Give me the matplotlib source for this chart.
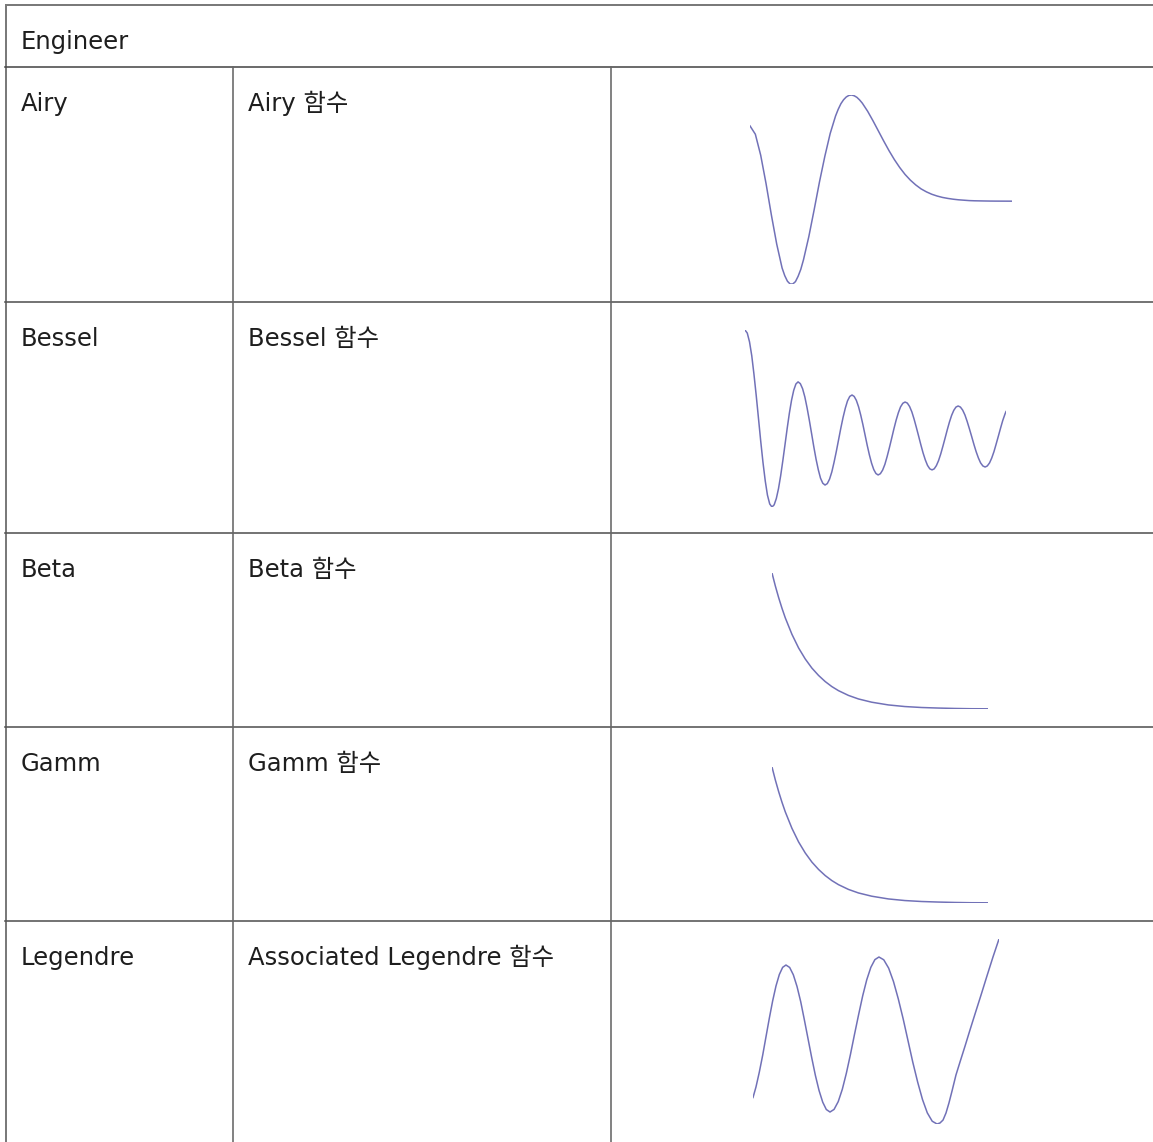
import matplotlib
matplotlib.use("Agg")
import matplotlib.pyplot as plt

plt.rcParams['font.family'] = ['DejaVu Sans', 'Noto Sans CJK KR']

W, H = 1153, 1142

# ---------------- data ----------------
header = "Engineer"
names = ["Airy", "Bessel", "Beta", "Gamm", "Legendre"]
descriptions = ["Airy 함수", "Bessel 함수", "Beta 함수", "Gamm 함수", "Associated Legendre 함수"]

airy_x = [-4.8, -4.6, -4.4, -4.2, -4.0, -3.8, -3.6, -3.5, -3.4, -3.3, -3.2, -3.1, -3.0, -2.9,
          -2.8, -2.6, -2.4, -2.2, -2.0, -1.8, -1.6, -1.5, -1.4, -1.3, -1.2, -1.1, -1.0, -0.9,
          -0.8, -0.7, -0.6, -0.4, -0.2, 0.0, 0.2, 0.4, 0.6, 0.8, 1.0, 1.2, 1.4, 1.6, 1.8, 2.0,
          2.2, 2.4, 2.6, 2.8, 3.0, 3.2, 3.4, 3.6, 3.8, 4.0, 4.2, 4.4, 4.6, 4.8, 5.0]
airy_y = [0.380, 0.338, 0.232, 0.089, -0.070, -0.217, -0.337, -0.376, -0.404, -0.418, -0.418,
          -0.406, -0.379, -0.344, -0.296, -0.179, -0.043, 0.098, 0.227, 0.342, 0.430, 0.464,
          0.492, 0.512, 0.526, 0.534, 0.536, 0.532, 0.524, 0.511, 0.495, 0.454, 0.406, 0.355,
          0.304, 0.255, 0.210, 0.170, 0.135, 0.106, 0.082, 0.062, 0.047, 0.035, 0.026, 0.019,
          0.014, 0.010, 0.007, 0.005, 0.003, 0.002, 0.0015, 0.001, 0.0006, 0.0004, 0.0003,
          0.0002, 0.0001]

bessel_x = [0.0, 0.26, 0.52, 0.78, 1.03, 1.29, 1.55, 1.81, 2.07, 2.33, 2.58, 2.84,
            3.1, 3.35, 3.6, 3.85, 4.1, 4.35, 4.6, 4.85, 5.1, 5.35, 5.6, 5.85,
            6.1, 6.36, 6.62, 6.88, 7.13, 7.39, 7.65, 7.91, 8.17, 8.43, 8.68, 8.94,
            9.2, 9.46, 9.72, 9.98, 10.23, 10.49, 10.75, 11.01, 11.27, 11.53, 11.78, 12.04,
            12.3, 12.55, 12.8, 13.05, 13.3, 13.55, 13.8, 14.05, 14.3, 14.55, 14.8, 15.05,
            15.3, 15.56, 15.82, 16.08, 16.33, 16.59, 16.85, 17.11, 17.37, 17.63, 17.88, 18.14,
            18.4, 18.66, 18.92, 19.18, 19.43, 19.69, 19.95, 20.21, 20.47, 20.73, 20.98, 21.24,
            21.5, 21.75, 22.0, 22.25, 22.5, 22.75, 23.0, 23.25, 23.5, 23.75, 24.0, 24.25,
            24.5, 24.76, 25.02, 25.28, 25.53, 25.79, 26.05, 26.31, 26.57, 26.83, 27.08, 27.34,
            27.6, 27.85, 28.11, 28.36, 28.62, 28.87, 29.13, 29.38, 29.63, 29.89, 30.0]
bessel_y = [0.594, 0.577, 0.528, 0.450, 0.348, 0.230, 0.103, -0.025, -0.143, -0.245, -0.323, -0.372,
            -0.389, -0.377, -0.342, -0.287, -0.215, -0.131, -0.042, 0.048, 0.132, 0.204, 0.259, 0.294,
            0.306, 0.296, 0.268, 0.222, 0.163, 0.094, 0.020, -0.055, -0.124, -0.183, -0.229, -0.257,
            -0.267, -0.259, -0.234, -0.194, -0.142, -0.082, -0.017, 0.048, 0.108, 0.160, 0.200, 0.225,
            0.233, 0.225, 0.203, 0.168, 0.122, 0.069, 0.011, -0.047, -0.100, -0.146, -0.181, -0.203,
            -0.211, -0.204, -0.184, -0.152, -0.110, -0.061, -0.009, 0.044, 0.093, 0.135, 0.167, 0.187,
            0.194, 0.188, 0.169, 0.139, 0.100, 0.054, 0.006, -0.043, -0.089, -0.128, -0.158, -0.177,
            -0.183, -0.177, -0.159, -0.131, -0.094, -0.051, -0.006, 0.040, 0.083, 0.120, 0.148, 0.166,
            0.172, 0.166, 0.149, 0.122, 0.087, 0.046, 0.003, -0.041, -0.082, -0.117, -0.144, -0.161,
            -0.167, -0.161, -0.144, -0.117, -0.081, -0.039, 0.006, 0.050, 0.092, 0.128, 0.141]

beta_x = [0.0, 0.1, 0.2, 0.3, 0.4, 0.6, 0.8, 1.0, 1.2, 1.4, 1.6, 1.8, 2.0, 2.3, 2.6, 3.0, 3.5,
          4.0, 4.5, 5.0, 5.5, 6.0, 6.5]
beta_y = [1.0, 0.905, 0.819, 0.741, 0.670, 0.549, 0.449, 0.368, 0.301, 0.247, 0.202, 0.165,
          0.135, 0.100, 0.074, 0.050, 0.030, 0.018, 0.011, 0.007, 0.004, 0.002, 0.0015]

gamma_x = [0.0, 0.1, 0.2, 0.3, 0.4, 0.6, 0.8, 1.0, 1.2, 1.4, 1.6, 1.8, 2.0, 2.3, 2.6, 3.0, 3.5,
           4.0, 4.5, 5.0, 5.5, 6.0, 6.5]
gamma_y = [1.0, 0.905, 0.819, 0.741, 0.670, 0.549, 0.449, 0.368, 0.301, 0.247, 0.202, 0.165,
           0.135, 0.100, 0.074, 0.050, 0.030, 0.018, 0.011, 0.007, 0.004, 0.002, 0.0015]

legendre_x = [-1.000, -0.976, -0.949, -0.921, -0.894, -0.867, -0.840, -0.813, -0.786, -0.759,
              -0.732, -0.702, -0.672, -0.642, -0.612, -0.583, -0.553, -0.523, -0.493, -0.463,
              -0.433, -0.404, -0.374, -0.341, -0.307, -0.274, -0.241, -0.208, -0.175, -0.141,
              -0.108, -0.075, -0.042, -0.009, 0.024, 0.063, 0.103, 0.142, 0.181, 0.221, 0.260,
              0.299, 0.339, 0.378, 0.417, 0.457, 0.496, 0.520, 0.545, 0.569, 0.593, 0.618,
              0.650, 0.683, 0.724, 0.764, 0.805, 0.854, 0.902, 0.951, 1.000]
legendre_y = [-0.639, -0.523, -0.359, -0.167, 0.039, 0.244, 0.436, 0.601, 0.727, 0.807,
              0.833, 0.806, 0.724, 0.594, 0.425, 0.228, 0.017, -0.194, -0.392, -0.561,
              -0.691, -0.772, -0.800, -0.771, -0.684, -0.548, -0.369, -0.162, 0.061, 0.284,
              0.492, 0.670, 0.807, 0.893, 0.922, 0.891, 0.798, 0.650, 0.458, 0.234, -0.006,
              -0.246, -0.469, -0.661, -0.809, -0.902, -0.933, -0.922, -0.889, -0.811, -0.700,
              -0.567, -0.389, -0.244, -0.067, 0.111, 0.289, 0.500, 0.711, 0.922, 1.122]

series = [(airy_x, airy_y), (bessel_x, bessel_y), (beta_x, beta_y),
          (gamma_x, gamma_y), (legendre_x, legendre_y)]

# ---------------- layout (pixels) ----------------
row_tops = [67, 302, 533, 727, 921]
col_x = [5, 233, 611]
# sparkline boxes: (left, right, top, bottom)
boxes = [(750, 1012, 95, 284), (745, 1006, 330, 507), (772, 988, 573, 709),
         (772, 988, 767, 903), (753, 999, 939, 1124)]
ylims = [None, None, (0.0, 1.0), (0.0, 1.0), None]

fig = plt.figure(figsize=(W / 100, H / 100), dpi=100)
fig.patch.set_facecolor("white")

bg = fig.add_axes([0, 0, 1, 1])
bg.set_xlim(0, W)
bg.set_ylim(H, 0)
bg.axis("off")

px = 0.72  # points per pixel
# outer borders
bg.plot([5, W], [5, 5], color="#7a7a7a", lw=2 * px, solid_capstyle="butt")
bg.plot([5.5, 5.5], [4, H], color="#7a7a7a", lw=2 * px, solid_capstyle="butt")
# horizontal row separators
for i, y in enumerate(row_tops):
    bg.plot([5, W], [y, y], color="#4a4a4a" if i == 0 else "#555555", lw=1.6 * px)
# vertical column separators
for x in col_x[1:]:
    bg.plot([x, x], [row_tops[0], H], color="#666666", lw=1.6 * px)

fs = 17.5
txt_color = "#1e1e1e"
tkw = dict(fontsize=fs, color=txt_color, va="baseline", ha="left")
bg.text(21, 5 + 44, header, **tkw)
for i, top in enumerate(row_tops):
    bg.text(21, top + 44, names[i], **tkw)
    bg.text(248, top + 44, descriptions[i], **tkw)

line_color = "#6262b0"
for (xs, ys), (l, r, t, b), yl in zip(series, boxes, ylims):
    ax = fig.add_axes([l / W, 1 - b / H, (r - l) / W, (b - t) / H])
    ax.plot(xs, ys, color=line_color, lw=1.1, alpha=0.9, solid_joinstyle="round")
    ax.set_xlim(min(xs), max(xs))
    if yl is None:
        ax.set_ylim(min(ys), max(ys))
    else:
        ax.set_ylim(*yl)
    ax.axis("off")
    ax.patch.set_alpha(0)

fig.savefig("out.png", dpi=100, facecolor="white")
